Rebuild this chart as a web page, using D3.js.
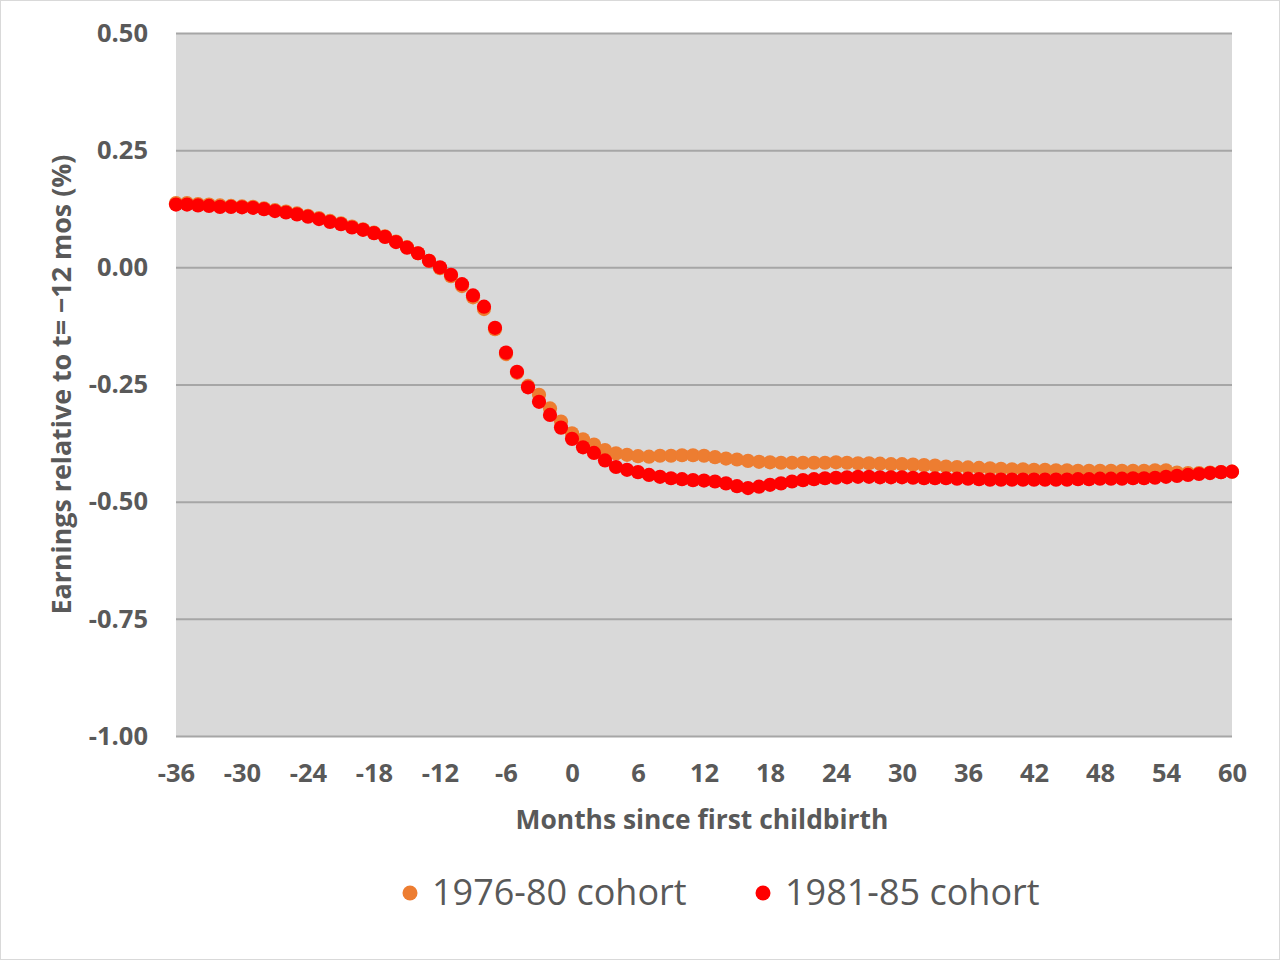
<!DOCTYPE html>
<html><head><meta charset="utf-8">
<script src="https://cdn.jsdelivr.net/npm/d3@7"></script>
<style>body{margin:0;background:#fff}svg{display:block}</style>
</head><body><svg id="c" width="1280" height="960"></svg>
<script>
const months = d3.range(-36, 61);
const cohort7680 = [0.137,0.137,0.135,0.134,0.132,0.131,0.130,0.129,0.126,0.122,0.119,0.115,0.110,0.105,0.099,0.094,0.087,0.081,0.074,0.066,0.055,0.043,0.030,0.014,-0.002,
-0.019,-0.040,-0.064,-0.089,-0.132,-0.185,-0.225,-0.253,-0.272,-0.301,-0.329,-0.354,-0.367,-0.378,-0.390,-0.397,-0.400,-0.403,-0.404,-0.402,-0.402,-0.401,-0.401,-0.402,
-0.405,-0.408,-0.410,-0.413,-0.415,-0.416,-0.417,-0.417,-0.417,-0.417,-0.417,-0.416,-0.417,-0.418,-0.418,-0.419,-0.420,-0.420,-0.421,-0.422,-0.423,-0.425,-0.426,-0.427,
-0.428,-0.429,-0.430,-0.431,-0.431,-0.432,-0.432,-0.433,-0.433,-0.434,-0.434,-0.434,-0.434,-0.434,-0.434,-0.434,-0.433,-0.433,-0.438,-0.439,-0.439,-0.438,-0.437,-0.436];
const cohort8185 = [0.134,0.134,0.132,0.131,0.129,0.129,0.128,0.127,0.124,0.120,0.117,0.113,0.108,0.103,0.097,0.092,0.085,0.080,0.073,0.065,0.054,0.042,0.030,0.014,0.000,
-0.016,-0.036,-0.060,-0.084,-0.129,-0.182,-0.223,-0.256,-0.287,-0.315,-0.342,-0.366,-0.384,-0.396,-0.412,-0.426,-0.432,-0.437,-0.443,-0.447,-0.450,-0.452,-0.454,-0.455,
-0.457,-0.461,-0.467,-0.471,-0.468,-0.464,-0.461,-0.457,-0.454,-0.452,-0.450,-0.449,-0.448,-0.447,-0.447,-0.448,-0.448,-0.448,-0.449,-0.450,-0.450,-0.450,-0.451,-0.451,
-0.452,-0.453,-0.453,-0.453,-0.453,-0.453,-0.453,-0.453,-0.453,-0.452,-0.452,-0.451,-0.451,-0.451,-0.450,-0.450,-0.449,-0.447,-0.445,-0.443,-0.441,-0.439,-0.437,-0.436];
const xTicks = d3.range(-36, 61, 6);
const yTicks = [0.5, 0.25, 0, -0.25, -0.5, -0.75, -1.0];
const seriesNames = ["1976-80 cohort", "1981-85 cohort"];
const seriesColors = ["#ED7D31", "#FF0000"];

const svg = d3.select("#c");
const font = "'Open Sans', sans-serif";
const L = 176, R = 1232, T = 33, B = 736;
svg.append("rect").attr("x",0.5).attr("y",0.5).attr("width",1279).attr("height",959).attr("fill","#fff").attr("stroke","#d9d9d9");
const x = d3.scaleLinear().domain([-36, 60]).range([L, R]);
const y = d3.scaleLinear().domain([-1, 0.5]).range([B, T]);

svg.append("rect").attr("x",L).attr("y",T).attr("width",R-L).attr("height",B-T).attr("fill","#d9d9d9");

const gy = svg.append("g").attr("transform",`translate(${L},0)`)
  .call(d3.axisLeft(y).tickValues(yTicks).tickSize(-(R-L)).tickPadding(28).tickFormat(d => d.toFixed(2)));
gy.select(".domain").remove();
gy.selectAll("line").attr("stroke","#a6a6a6").attr("stroke-width",2);
gy.selectAll("text").attr("fill","#595959").style("font-family",font).style("font-weight","bold").style("font-size","25.5px");

const gx = svg.append("g").attr("transform",`translate(0,${B})`)
  .call(d3.axisBottom(x).tickValues(xTicks).tickSize(0).tickPadding(28).tickFormat(d => String(d)));
gx.select(".domain").remove();
gx.selectAll("text").attr("fill","#595959").style("font-family",font).style("font-weight","bold").style("font-size","25.5px");

const series = [cohort7680, cohort8185];
series.forEach((vals, i) => {
  svg.append("g").selectAll("circle").data(months.map((m, j) => [m, vals[j]])).join("circle")
    .attr("cx", d => x(d[0])).attr("cy", d => y(d[1])).attr("r", 7.1).attr("fill", seriesColors[i]);
});

svg.append("text").attr("x",(L+R)/2 - 2).attr("y",829).attr("text-anchor","middle")
  .attr("fill","#595959").style("font-family",font).style("font-weight","bold").style("font-size","26.4px")
  .text("Months since first childbirth");
svg.append("text").attr("transform",`translate(71,${(T+B)/2}) rotate(-90)`).attr("text-anchor","middle")
  .attr("fill","#595959").style("font-family",font).style("font-weight","bold").style("font-size","26.8px")
  .text("Earnings relative to t= \u221212 mos (%)");

const legX = [410, 763];
seriesNames.forEach((n, i) => {
  svg.append("circle").attr("cx",legX[i]).attr("cy",893).attr("r",7.5).attr("fill",seriesColors[i]);
  svg.append("text").attr("x",legX[i]+22).attr("y",905).attr("fill","#595959")
    .style("font-family",font).style("font-size","36px").text(n);
});
</script></body></html>
